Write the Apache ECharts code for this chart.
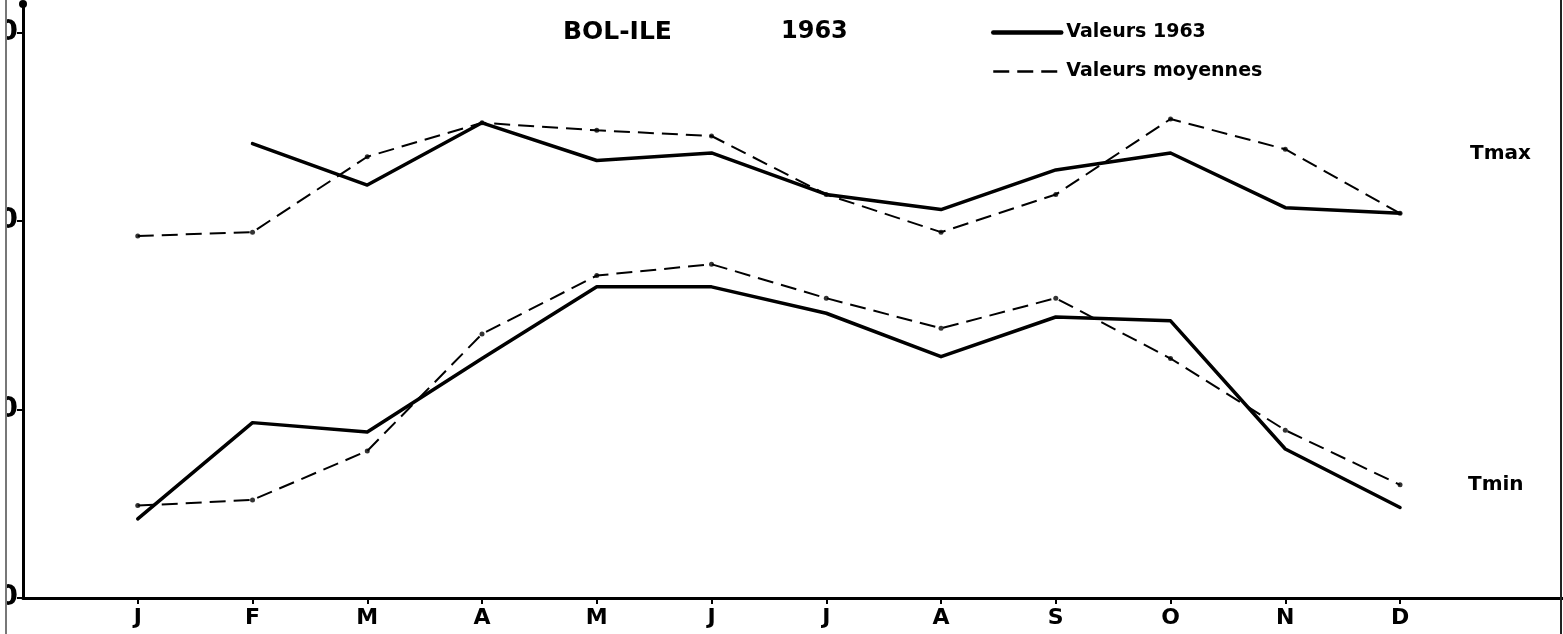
<!DOCTYPE html>
<html>
<head>
<meta charset="utf-8">
<script src="https://cdn.jsdelivr.net/npm/echarts@6/dist/echarts.min.js"></script>
<style>
html,body{margin:0;padding:0;background:#fff;}
#chart{width:1563px;height:634px;}
</style>
</head>
<body>
<div id="chart"></div>
<script>
// Data
const months = ['J','F','M','A','M','J','J','A','S','O','N','D'];
const monthIndex = [1,2,3,4,5,6,7,8,9,10,11,12];
const tmax1963 = [null, 34.1, 31.9, 35.2, 33.2, 33.6, 31.4, 30.6, 32.7, 33.6, 30.7, 30.4];
const tmaxMean = [29.2, 29.4, 33.4, 35.2, 34.8, 34.5, 31.4, 29.4, 31.4, 35.4, 33.8, 30.4];
const tmin1963 = [14.2, 19.3, 18.8, 22.7, 26.5, 26.5, 25.1, 22.8, 24.9, 24.7, 17.9, 14.8];
const tminMean = [14.9, 15.2, 17.8, 24.0, 27.1, 27.7, 25.9, 24.3, 25.9, 22.7, 18.9, 16.0];
const yTicks = [10, 20, 30, 40];
const titleWords = ['BOL-ILE', '1963'];
const seriesNames = ['Valeurs 1963', 'Valeurs moyennes'];
const curveLabels = ['Tmax', 'Tmin'];

const pair = arr => arr.map((v, i) => [monthIndex[i], v]);
const FONT = 'DejaVu Sans';

const solidStyle = { color: '#000', width: 3.5, type: 'solid', cap: 'round', join: 'round' };
const dashStyle = { color: '#000', width: 2, type: [16, 8] };
const black = { color: '#000' };

const chart = echarts.init(document.getElementById('chart'));
chart.setOption({
  backgroundColor: '#fff',
  animation: false,
  grid: { left: 23, right: 0, top: 4, bottom: 36, containLabel: false, outerBoundsMode: 'none' },
  xAxis: {
    type: 'value', min: 0, max: 13.42,
    splitLine: { show: false },
    axisLine: { show: true, onZero: false, lineStyle: { color: '#000', width: 3 } },
    axisTick: { show: true, customValues: monthIndex, length: 6, lineStyle: { color: '#000', width: 2 } },
    axisLabel: {
      customValues: monthIndex, margin: 9,
      formatter: v => months[Math.round(v) - 1] || '',
      color: '#000', fontFamily: FONT, fontWeight: 'bold', fontSize: 22
    }
  },
  yAxis: {
    type: 'value', min: 10, max: 41.5,
    splitLine: { show: false },
    axisLine: { show: true, onZero: false, symbol: ['none', 'circle'], symbolSize: [8, 8],
      lineStyle: { color: '#000', width: 3 } },
    axisTick: { show: true, customValues: yTicks, length: 6, lineStyle: { color: '#000', width: 2 } },
    axisLabel: {
      customValues: yTicks, margin: 5,
      color: '#000', fontFamily: FONT, fontWeight: 'bold', fontSize: 28
    }
  },
  legend: {
    data: [
      { name: seriesNames[0], lineStyle: { width: 4.5, color: '#000' } },
      { name: seriesNames[1], lineStyle: { width: 2.5, color: '#000' } }
    ],
    orient: 'vertical', left: 986, top: 18,
    itemWidth: 68, itemHeight: 14, itemGap: 20,
    itemStyle: { opacity: 0 },
    textStyle: { color: '#000', fontFamily: FONT, fontWeight: 'bold', fontSize: 19 }
  },
  series: [
    { name: seriesNames[0], type: 'line', data: pair(tmax1963), symbol: 'none', itemStyle: black, lineStyle: solidStyle },
    { name: seriesNames[1], type: 'line', data: pair(tmaxMean), symbol: 'none', itemStyle: black, lineStyle: dashStyle },
    { name: seriesNames[0], type: 'line', data: pair(tmin1963), symbol: 'none', itemStyle: black, lineStyle: solidStyle },
    { name: seriesNames[1], type: 'line', data: pair(tminMean), symbol: 'none', itemStyle: black, lineStyle: dashStyle },
    { name: 'pts', type: 'scatter', data: pair(tmaxMean).concat(pair(tminMean)), symbolSize: 5,
      itemStyle: black, silent: true }
  ],
  graphic: [
    { type: 'text', left: 563, top: 20, style: { text: titleWords[0], fill: '#000', font: 'bold 25px "DejaVu Sans"' } },
    { type: 'text', left: 781, top: 20, style: { text: titleWords[1], fill: '#000', font: 'bold 24px "DejaVu Sans"' } },
    { type: 'text', left: 1470, top: 144, style: { text: curveLabels[0], fill: '#000', font: 'bold 20px "DejaVu Sans"' } },
    { type: 'text', left: 1468, top: 475, style: { text: curveLabels[1], fill: '#000', font: 'bold 20px "DejaVu Sans"' } },
    { type: 'rect', shape: { x: 0, y: 0, width: 6, height: 634 }, style: { fill: '#fff' }, z: 100 },
    { type: 'line', shape: { x1: 6, y1: 0, x2: 6, y2: 634 }, style: { stroke: '#777', lineWidth: 2 }, z: 101 },
    { type: 'line', shape: { x1: 1561, y1: 0, x2: 1561, y2: 634 }, style: { stroke: '#222', lineWidth: 2 }, z: 101 }
  ]
});
</script>
</body>
</html>
